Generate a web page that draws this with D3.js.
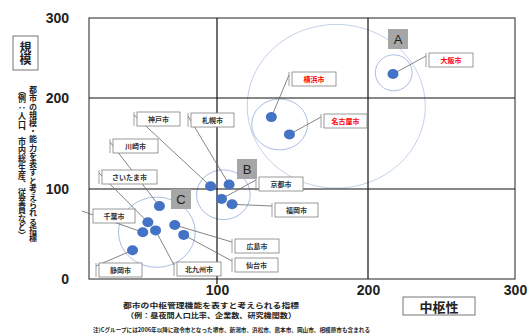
<!DOCTYPE html>
<html>
<head>
<meta charset="utf-8">
<script src="https://cdn.jsdelivr.net/npm/d3@7"></script>
<style>
  html, body { margin: 0; padding: 0; background: #fff; }
  svg { display: block; }
  .jp { font-family: "Noto Sans CJK JP", "Noto Sans", sans-serif; font-weight: bold; }
  .num { font-family: "Liberation Sans", Arial, sans-serif; font-weight: bold; }
</style>
</head>
<body>
<div id="chart"></div>
<script>
// data
const cities = ["大阪市", "横浜市", "名古屋市", "神戸市", "札幌市", "京都市", "福岡市",
    "川崎市", "さいたま市", "千葉市", "北九州市", "広島市", "仙台市", "静岡市"];
const centrality = [217, 136, 148, 95, 108, 103, 110, 55, 46, 42, 52, 67, 74, 34];
const scaleValues = [230, 179, 160, 103, 105, 89, 83, 81, 63, 52, 54, 60, 49, 32];
const redCities = ["大阪市", "横浜市", "名古屋市"];

const groupNames = ["big", "A", "YN", "B", "C"];
const groupX0 = [120, 205, 123, 84, 23];
const groupX1 = [239, 230, 160, 122, 83];
const groupY0 = [101, 209, 143, 66, 13];
const groupY1 = [292, 254, 199, 121, 91];

const xTicks = [100, 200, 300];
const yTicks = [0, 100, 200, 300];

const xTitle = ["都市の中枢管理機能を表すと考えられる指標", "（例：昼夜間人口比率、企業数、研究機関数）"];
const yTitle = ["都市の規模・能力を表すと考えられる指標", "（例：人口、市内総生産、従業員など）"];
const noteText = "注)Cグループには2006年以降に政令市となった堺市、新潟市、浜松市、熊本市、岡山市、相模原市も含まれる";

// layout of the callout boxes (pixels)
const labelBoxes = {
    "大阪市": [429, 53, 44], "横浜市": [292, 72, 44], "名古屋市": [324, 114, 43],
    "神戸市": [137, 112, 43], "札幌市": [191, 113, 43], "京都市": [259, 177, 44],
    "福岡市": [275, 203, 43], "川崎市": [113, 139, 45], "さいたま市": [102, 170, 55],
    "千葉市": [93, 209, 42], "北九州市": [177, 262, 44], "広島市": [235, 239, 44],
    "仙台市": [235, 258, 43], "静岡市": [99, 263, 43]
};
const groupBoxes = [["A", 388, 29], ["B", 237, 159], ["C", 171, 189]];

const width = 529, height = 334;

const x = d3.scaleLinear().domain([0, 100, 200, 300]).range([89, 217, 368, 515]);
const y = d3.scaleLinear().domain([0, 100, 200, 300]).range([279, 189, 98, 18]);

const svg = d3.select("#chart").append("svg")
    .attr("width", width)
    .attr("height", height);

// group ellipses
groupNames.forEach(function (g, i) {
    let cx = (x(groupX0[i]) + x(groupX1[i])) / 2,
        cy = (y(groupY0[i]) + y(groupY1[i])) / 2;
    svg.append("ellipse")
        .attr("cx", cx).attr("cy", cy)
        .attr("rx", (x(groupX1[i]) - x(groupX0[i])) / 2)
        .attr("ry", (y(groupY0[i]) - y(groupY1[i])) / 2)
        .attr("fill", "none")
        .attr("stroke", g === "big" ? "#c3d1ea" : "#a9bde2")
        .attr("stroke-width", 1);
});

// frame and quadrant lines
svg.append("rect")
    .attr("x", x(0)).attr("y", y(300))
    .attr("width", x(300) - x(0)).attr("height", y(0) - y(300))
    .attr("fill", "none").attr("stroke", "#555").attr("stroke-width", 1.3);

[100, 200].forEach(function (v) {
    svg.append("line")
        .attr("x1", x(v)).attr("x2", x(v))
        .attr("y1", y(300)).attr("y2", v === 100 ? y(0) + 5 : y(0))
        .attr("stroke", "#111").attr("stroke-width", 1.2);
    svg.append("line")
        .attr("x1", x(0)).attr("x2", x(300))
        .attr("y1", y(v)).attr("y2", y(v))
        .attr("stroke", "#111").attr("stroke-width", 1.2);
});

// axes
let xAxis = d3.axisBottom(x).tickValues(xTicks).tickSize(0).tickPadding(6);
let yAxis = d3.axisLeft(y).tickValues(yTicks).tickSize(0).tickPadding(20);

svg.append("g")
    .attr("transform", "translate(0," + y(0) + ")")
    .call(xAxis)
    .call(function (g) { g.select(".domain").remove(); })
    .selectAll("text")
    .attr("class", "num")
    .style("font-size", "14px")
    .attr("fill", "#222");

svg.append("g")
    .attr("transform", "translate(" + x(0) + ",0)")
    .call(yAxis)
    .call(function (g) { g.select(".domain").remove(); })
    .selectAll("text")
    .attr("class", "num")
    .style("font-size", "14px")
    .attr("fill", "#222");

// leader lines and callouts
cities.forEach(function (c, i) {
    let b = labelBoxes[c];
    let px = x(centrality[i]), py = y(scaleValues[i]);
    let sx = b[0] - 3;
    if (c === "千葉市") {
        svg.append("line")
            .attr("x1", 82).attr("y1", 211).attr("x2", px).attr("y2", py)
            .attr("stroke", "#666").attr("stroke-width", 0.8);
    } else {
        svg.append("line")
            .attr("x1", sx).attr("y1", b[1] + 3).attr("x2", px).attr("y2", py)
            .attr("stroke", "#666").attr("stroke-width", 0.8);
        svg.append("line")
            .attr("x1", sx).attr("x2", sx)
            .attr("y1", b[1]).attr("y2", b[1] + 14)
            .attr("stroke", "#888").attr("stroke-width", 0.8);
    }
    svg.append("rect")
        .attr("x", b[0]).attr("y", b[1])
        .attr("width", b[2]).attr("height", 14)
        .attr("fill", "#fff").attr("stroke", "#808080").attr("stroke-width", 0.8);
    svg.append("text")
        .attr("class", "jp")
        .attr("x", b[0] + b[2] / 2).attr("y", b[1] + 7)
        .attr("text-anchor", "middle")
        .attr("dominant-baseline", "central")
        .style("font-size", "7px")
        .attr("fill", redCities.indexOf(c) >= 0 ? "#ff0000" : "#333")
        .text(c);
});

// city points
svg.append("g").selectAll("ellipse")
    .data(cities)
    .join("ellipse")
    .attr("cx", function (d, i) { return x(centrality[i]); })
    .attr("cy", function (d, i) { return y(scaleValues[i]); })
    .attr("rx", 5.5).attr("ry", 5)
    .attr("fill", "#4472c4");

// group letters
groupBoxes.forEach(function (g) {
    svg.append("rect")
        .attr("x", g[1]).attr("y", g[2])
        .attr("width", 20).attr("height", 20)
        .attr("fill", "#a6a6a6");
    svg.append("text")
        .attr("class", "num")
        .attr("x", g[1] + 10).attr("y", g[2] + 10.5)
        .attr("text-anchor", "middle")
        .attr("dominant-baseline", "central")
        .style("font-size", "13px")
        .style("font-weight", "normal")
        .attr("fill", "#222")
        .text(g[0]);
});

// y title
svg.append("rect")
    .attr("x", 13).attr("y", 36).attr("width", 25).attr("height", 34)
    .attr("fill", "#fff").attr("stroke", "#777").attr("stroke-width", 1);
svg.append("text")
    .attr("class", "jp")
    .attr("x", 25.5).attr("y", 41)
    .style("writing-mode", "vertical-rl")
    .style("font-size", "12px")
    .attr("fill", "#222")
    .text("規模");

yTitle.forEach(function (t, i) {
    svg.append("text")
        .attr("class", "jp")
        .attr("x", i === 0 ? 33 : 22).attr("y", 86)
        .style("writing-mode", "vertical-rl")
        .style("font-size", "8px")
        .attr("textLength", i === 0 ? 156 : 154)
        .attr("lengthAdjust", "spacingAndGlyphs")
        .attr("fill", "#222")
        .text(t);
});

// x title, two lines
xTitle.forEach(function (t, i) {
    svg.append("text")
        .attr("class", "jp")
        .attr("text-anchor", "middle")
        .style("font-size", "7.2px")
        .attr("fill", "#222")
        .attr("x", 211).attr("y", 307.5 + i * 10.6)
        .attr("textLength", i === 0 ? 176 : 170)
        .attr("lengthAdjust", "spacingAndGlyphs")
        .text(t);
});

svg.append("rect")
    .attr("x", 403).attr("y", 297).attr("width", 72).attr("height", 18)
    .attr("fill", "#fff").attr("stroke", "#777").attr("stroke-width", 1);
svg.append("text")
    .attr("class", "jp")
    .attr("x", 439).attr("y", 306)
    .attr("text-anchor", "middle")
    .attr("dominant-baseline", "central")
    .style("font-size", "13px")
    .attr("fill", "#222")
    .text("中枢性");

svg.append("text")
    .attr("class", "jp")
    .attr("x", 93).attr("y", 330)
    .attr("dominant-baseline", "central")
    .style("font-size", "5.6px")
    .attr("textLength", 277)
    .attr("lengthAdjust", "spacingAndGlyphs")
    .attr("fill", "#222")
    .text(noteText);
</script>
</body>
</html>
